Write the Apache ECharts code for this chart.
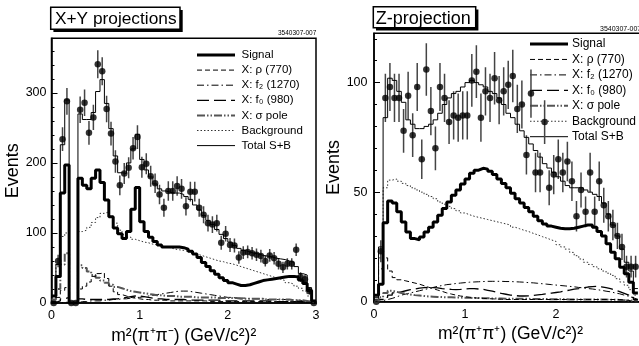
<!DOCTYPE html>
<html><head><meta charset="utf-8">
<script src="https://cdn.jsdelivr.net/npm/echarts@6/dist/echarts.min.js"></script>
<style>html,body{margin:0;padding:0;background:#fff}#c{width:639px;height:346px}</style>
</head><body><div id="c"></div>
<script>
const BIN = 0.05;
const FONT = 'Liberation Sans';
const FONTCSS = '"Liberation Sans", Arial, Helvetica, sans-serif';

// ---- Left panel: X+Y projections, m^2(pi+ pi-) ----
const xyData   = [0,60,234,288,0,0,276,286,243,265, 341,331,277,242,202,168,185,193,221,237, 194,199,181,171,155,136,160,160,167,163, 138,159,159,136,126,114,112,114,86,99, 83,82,65,72,73,71,69,67,60,68, 64,56,51,56,56,76,37,34,17,0];
const xyErr    = [0,9,17,19,0,0,19,19,17,18, 20,20,19,17,16,14,15,15,16,17, 15,15,15,14,14,13,14,14,14,14, 13,14,14,13,12,12,12,12,10,11, 10,10,9,9,9,9,9,9,8,9, 9,8,8,8,8,9,7,6,5,0];
const xySignal = [10,38,157,197,0,0,178,168,163,178, 190,172,147,123,107,99,92,102,134,165, 116,102,94,88,83,80,80,80,80,79, 77,74,70,65,58,52,46,41,36,32, 29,27,25,25,26,28,30,32,33,34, 35,36,37,38,38,37,33,28,18,3];
const xyTotal  = [10,55,226,290,0,0,270,262,262,272, 302,319,285,249,210,186,185,200,220,241, 205,190,180,170,163,160,158,157,157,155, 152,148,140,133,125,118,112,105,98,92, 87,82,78,75,73,71,70,68,67,66, 64,63,62,60,58,52,42,40,22,3];
const xyBkg    = [20,60,95,100,0,0,102,104,108,115, 122,128,130,124,114,104,98,94,91,89, 87,86,84,83,81,80,79,77,76,75, 74,72,70,68,66,64,62,60,59,57, 56,54,52,50,48,46,44,42,40,38, 36,34,32,29,27,24,21,17,10,2];
const xyRho    = [2,8,18,22,0,0,20,24,30,38, 42,43,35,24,16,12,10,8,7,6, 5,5,4,4,4,4,3,3,3,3, 3,3,3,3,3,2,2,2,2,2, 2,2,2,2,2,2,2,2,2,2, 2,2,2,2,2,2,1,1,1,0];
const xyF2     = [0,0,1,1,0,0,2,2,3,3, 3,4,4,5,5,6,6,7,8,8, 9,10,11,12,13,14,15,16,17,17, 17,16,15,14,13,12,11,10,9,8, 8,7,7,7,6,6,6,6,5,5, 5,5,5,4,4,4,3,3,2,0];
const xyF0     = [1,3,6,8,0,0,6,5,5,5, 5,5,5,6,6,7,8,9,10,10, 9,8,7,6,6,5,5,5,5,5, 4,4,4,4,4,4,4,4,3,3, 3,3,3,3,3,3,3,3,3,3, 2,2,2,2,2,2,2,1,1,0];
const xySigma  = [5,20,55,71,0,0,54,50,45,40, 36,32,29,26,23,21,19,17,16,15, 14,13,12,11,11,10,10,10,9,9, 9,9,8,8,8,8,8,7,7,7, 7,7,6,6,6,6,6,6,5,5, 5,5,5,5,4,4,4,3,2,0];

// ---- Right panel: Z-projection, m^2(pi+ pi+) ----
const zData   = [0,23,93,98,93,93,78,94,76,98, 65,106,87,70,98,93,82,85,84,85, 85,101,105,84,96,93,102,92,96,99, 103,88,90,67,95,59,59,82,52,58, 65,59,64,55,39,51,41,59,41,55, 44,39,35,30,25,16,16,16];
const zErr    = [0,5,11,11,11,11,10,11,10,11, 9,12,11,10,11,11,10,11,11,11, 11,12,12,11,11,11,12,11,11,11, 12,11,11,9,11,9,9,10,8,9, 9,9,9,9,7,8,7,9,7,9, 8,7,7,6,6,5,5,5];
const zSignal = [3,8,36,46,45,41,36.4,31.8,28.8,28.3, 29.5,31.8,34,36.4,39.4,42.5,45.5,48.6,51,53.7, 56,58.6,60,60.9,60.5,59.5,58,56,54,52, 49.5,47,45,43,41,39,37,35.5,34.5,34, 33.5,33.3,33.3,33.5,34,34.5,35,35,34,32, 30,26.5,22.6,19.6,15.7,12.7,8.9,4];
const zTotal  = [2,25,84,102,101,96,91,83,81,79, 79,80,81,83,86,90,93,95,96,98, 100,101,100,99,98,96,95,93,90,86, 84,81,78,75,72,69,66,63,61,59, 57,55,53,52,52,52,51,50,49,48, 45,40,35,30,24,18,14,6];
const zBkg    = [0,20,52,55.5,56,55,54,53,52,51, 50,49,48,47,45.5,44.5,43.5,42.5,41.5,40.5, 39.7,39,38.5,38,37.5,37,36.5,36,35.5,35, 34,33.3,32.6,32,31.2,30.5,29.7,29,28.2,27.5, 26,25,24,22.5,21,19.5,18,17,16,15, 14,13,12,10.5,9,7.5,5.5,3];
const zRho    = [0,15,20,14,11,10,9.5,9,8.5,8, 7.3,6.6,6,5.3,4.7,4,3.5,3,2.6,2.3, 2,1.8,1.6,1.5,1.4,1.3,1.2,1.1,1,1, 1,1,1,1,1,1,1,1,1,1, 1,1,1,1,1,1,1,1,1,1, 1,1,1,1,0.8,0.6,0.4,0.2];
const zF2     = [0,0.5,1,1.5,2.2,3,3.5,4,4.5,5, 5.5,6,6.5,7,7.4,7.8,8,8.3,8.5,8.7, 8.9,9,9.1,9.2,9.3,9.3,9.3,9.3,9.2,9.2, 9.1,9,8.9,8.7,8.6,8.4,8.2,8,7.8,7.6, 7.4,7.2,7,6.8,6.5,6.3,6,5.8,5.5,5.2, 4.8,4.5,4,3.6,3,2.5,1.8,1];
const zF0     = [0,1,2,3,4,4.5,5,5.5,5.8,6.2, 6.4,6.5,6.4,6.3,6,5.8,5.6,5.5,5.6,5.8, 6,6,5.8,5.6,5.2,4.8,4.3,3.8,3.4,3, 2.8,2.6,2.6,2.7,2.9,3.1,3.3,3.6,3.9,4.2, 4.5,4.9,5.3,5.7,6,6.4,6.7,6.9,7,6.8, 6.4,6,5.3,4.6,3.8,3,2,1];
const zSigma  = [0,2,4,5,4.5,4,3.6,3.3,3,2.8, 2.6,2.4,2.3,2.2,2.1,2,2,1.9,1.9,1.8, 1.8,1.7,1.7,1.6,1.6,1.5,1.5,1.5,1.4,1.4, 1.4,1.3,1.3,1.3,1.2,1.2,1.2,1.2,1.1,1.1, 1.1,1.1,1,1,1,1,1,1,1,1, 1,0.9,0.9,0.8,0.7,0.6,0.4,0.2];

const LEGEND = ['Signal', 'X: ρ (770)', 'X: f₂ (1270)', 'X: f₀ (980)', 'X: σ pole', 'Background', 'Total S+B'];
const STY = {
  'Signal':        {color:'#000', width:3,   dash:null},
  'X: ρ (770)':    {color:'#000', width:1,   dash:[5,3]},
  'X: f₂ (1270)':  {color:'#000', width:1,   dash:[7,3,1.5,3]},
  'X: f₀ (980)':   {color:'#000', width:1.3, dash:[12,5]},
  'X: σ pole':     {color:'#555', width:2,   dash:[8,2,1.5,2,1.5,2]},
  'Background':    {color:'#333', width:1,   dash:[1.5,2]},
  'Total S+B':     {color:'#000', width:1,   dash:null}
};

function steps(vals){
  const pts = vals.map((v,i)=>[i*BIN, v]);
  pts.push([vals.length*BIN, vals[vals.length-1]]);
  return pts;
}
function hist(name, vals, xi, yi){
  const s = STY[name];
  return {type:'line', name, xAxisIndex:xi, yAxisIndex:yi, data:steps(vals), step:'end',
    symbol:'none', silent:true, clip:true,
    lineStyle:{color:s.color, width:s.width, type:s.dash||'solid', cap:'butt'}};
}
function points(vals, errs, xi, yi){
  const d = vals.map((v,i)=>[(i+0.5)*BIN, v, errs[i]]);
  return [
    {type:'custom', xAxisIndex:xi, yAxisIndex:yi, data:d, encode:{x:0,y:1}, clip:true, silent:true,
      renderItem:function(params, api){
        const x = api.value(0), y = api.value(1), e = api.value(2);
        if (!e) return null;
        const a = api.coord([x, y+e]), b = api.coord([x, y-e]);
        return {type:'line', shape:{x1:a[0], y1:a[1], x2:b[0], y2:b[1]}, style:{stroke:'#444', lineWidth:1.5}};
      }},
    {type:'scatter', xAxisIndex:xi, yAxisIndex:yi, data:d.map(p=>[p[0],p[1]]), symbol:'circle',
      symbolSize:6.5, itemStyle:{color:'#000'}, silent:true}
  ];
}
function panel(xi, yi, comps){
  return [
    hist('X: f₀ (980)', comps.f0, xi, yi),
    hist('X: f₂ (1270)', comps.f2, xi, yi),
    hist('X: σ pole', comps.sigma, xi, yi),
    hist('X: ρ (770)', comps.rho, xi, yi),
    hist('Background', comps.bkg, xi, yi),
    hist('Total S+B', comps.total, xi, yi),
    hist('Signal', comps.signal, xi, yi),
    ...points(comps.data, comps.err, xi, yi)
  ];
}

function xAxisDef(gi, max, nameTxt, gap){
  return {gridIndex:gi, type:'value', min:0, max:max, interval:1,
    axisLine:{onZero:false, lineStyle:{color:'#000', width:1.5}}, axisTick:{show:false}, splitLine:{show:false},
    axisLabel:{margin:6, fontSize:12.5, color:'#000', fontFamily:FONT},
    name:nameTxt, nameLocation:'middle', nameGap:gap,
    nameTextStyle:{fontSize:17.5, color:'#000', fontFamily:FONT}};
}
function yMain(gi, max, interval, gap, margin){
  return {gridIndex:gi, type:'value', position:'left', min:0, max:max, interval:interval,
    axisLine:{onZero:false, lineStyle:{color:'#000', width:1.5}},
    axisTick:{inside:true, length:6, lineStyle:{color:'#000', width:1}},
    splitLine:{show:false},
    axisLabel:{margin:margin, fontSize:12.5, color:'#000', fontFamily:FONT, showMaxLabel:false},
    name:'Events', nameLocation:'middle', nameGap:gap,
    nameTextStyle:{fontSize:18, color:'#000', fontFamily:FONT}};
}
function yMinor(gi, max, interval){
  return {gridIndex:gi, type:'value', position:'left', offset:0, min:0, max:max, interval:interval,
    axisLine:{show:false}, axisLabel:{show:false}, splitLine:{show:false},
    axisTick:{inside:true, length:3, lineStyle:{color:'#000', width:1}}};
}

function legendEls(x0, y0, pitch, lineLen, gap, fs){
  const els = [];
  LEGEND.forEach((name,i)=>{
    const s = STY[name], y = y0 + i*pitch;
    els.push({type:'line', silent:true, shape:{x1:x0, y1:y, x2:x0+lineLen, y2:y},
      style:{stroke:s.color, lineWidth:s.width, lineDash:s.dash||null}});
    els.push({type:'text', silent:true, x:x0+lineLen+gap, y:y,
      style:{text:name, fill:'#000', font:fs+'px '+FONTCSS, align:'left', verticalAlign:'middle',
             textAlign:'left', textVerticalAlign:'middle'}});
  });
  return els;
}
function titleBox(x, y, w, h, txt, tx, ty, fs){
  return [
    {type:'rect', silent:true, shape:{x:x+2.7, y:y+2.7, width:w, height:h}, style:{fill:'#000'}},
    {type:'rect', silent:true, shape:{x:x, y:y, width:w, height:h}, style:{fill:'#fff', stroke:'#000', lineWidth:1.5}},
    {type:'text', silent:true, x:tx, y:ty, style:{text:txt, fill:'#000', font:fs+'px '+FONTCSS,
      align:'left', verticalAlign:'middle', textAlign:'left', textVerticalAlign:'middle'}}
  ];
}
function idText(x, y, fs){
  return {type:'text', silent:true, x:x, y:y, style:{text:'3540307-007', fill:'#000', font:fs+'px '+FONTCSS,
    align:'left', verticalAlign:'middle', textAlign:'left', textVerticalAlign:'middle'}};
}

const chart = echarts.init(document.getElementById('c'), null, {renderer:'canvas'});
chart.setOption({
  animation:false,
  backgroundColor:'#fff',
  textStyle:{fontFamily:FONT},
  grid:[
    {left:51.5, top:38.3, width:264.5, height:264.7, show:true, borderColor:'#000', borderWidth:1.5, outerBoundsMode:'none', containLabel:false},
    {left:374, top:33.3, width:273, height:268.4, show:true, borderColor:'#000', borderWidth:1.5, outerBoundsMode:'none', containLabel:false}
  ],
  xAxis:[
    xAxisDef(0, 3, 'm²(π⁺π⁻) (GeV/c²)²', 19),
    xAxisDef(1, 3, 'm²(π⁺π⁺) (GeV/c²)²', 20)
  ],
  yAxis:[
    yMain(0, 378, 100, 22, 5),
    yMinor(0, 378, 20),
    yMain(1, 122.5, 50, 26, 6.5),
    yMinor(1, 122.5, 10)
  ],
  series:[
    ...panel(0, 0, {data:xyData, err:xyErr, signal:xySignal, total:xyTotal, bkg:xyBkg, rho:xyRho, f2:xyF2, f0:xyF0, sigma:xySigma}),
    ...panel(1, 2, {data:zData, err:zErr, signal:zSignal, total:zTotal, bkg:zBkg, rho:zRho, f2:zF2, f0:zF0, sigma:zSigma})
  ],
  graphic:{elements:[
    ...titleBox(50.7, 7.3, 129.3, 22, 'X+Y projections', 55, 19.6, 17.3),
    ...titleBox(373.3, 6.7, 102.4, 21, 'Z-projection', 375.7, 18.8, 18),
    idText(278, 33.5, 6.5),
    idText(600, 29, 7),
    ...legendEls(197, 55, 15.1, 38, 6.5, 11.5),
    ...legendEls(530, 44, 15.45, 38, 4, 12)
  ]}
});
</script>
</body></html>
